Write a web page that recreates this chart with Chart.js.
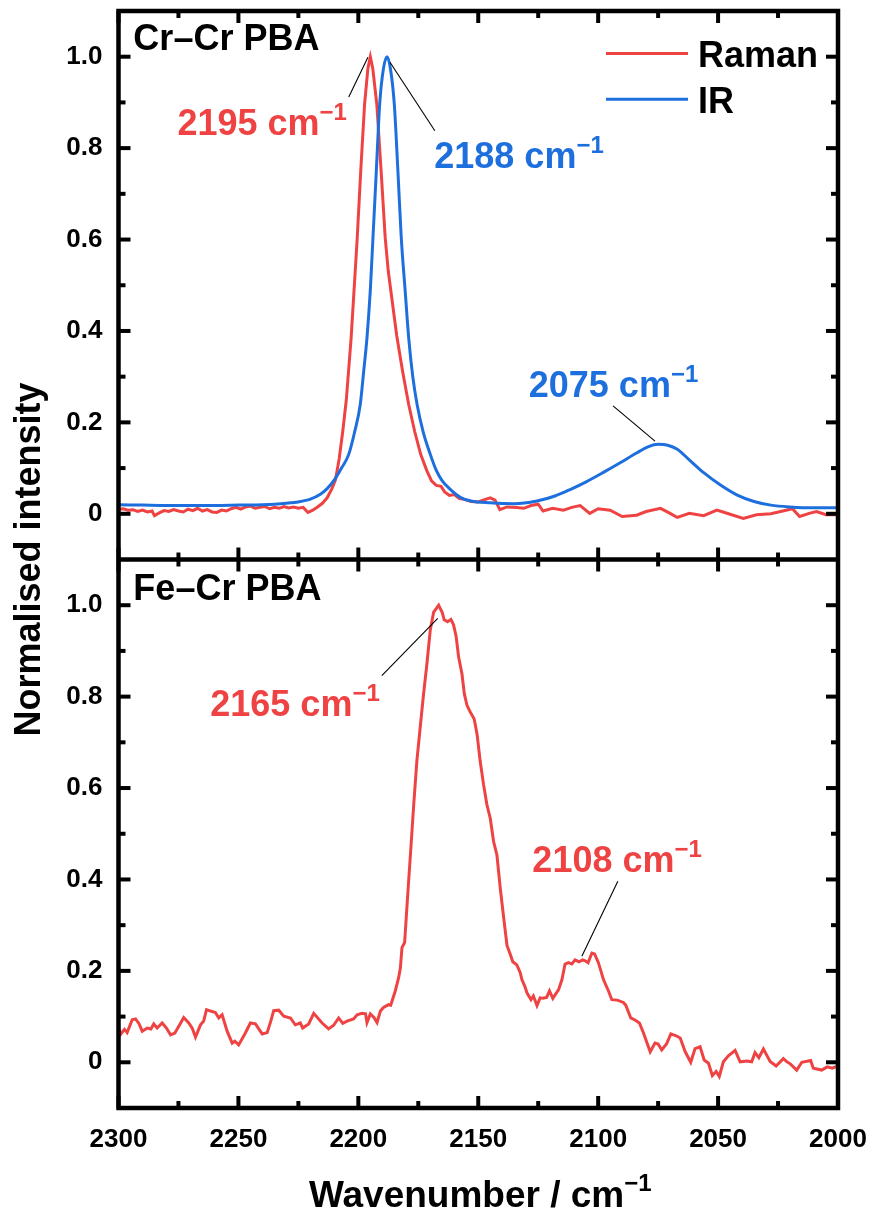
<!DOCTYPE html>
<html>
<head>
<meta charset="utf-8">
<script src="https://cdn.jsdelivr.net/npm/chart.js@4.4.1/dist/chart.umd.min.js"></script>
<style>
  html, body { margin: 0; padding: 0; background: #fff; }
  canvas { display: block; }
</style>
</head>
<body>
<canvas id="spectra" width="877" height="1216"></canvas>
<script>
const FONT = "'Liberation Sans', Arial, Helvetica, sans-serif";
const RED = '#ef4343';
const BLUE = '#1e6fde';

// Cr–Cr PBA, Raman spectrum (wavenumber / cm-1, normalised intensity)
const crRamanWn = [
  2300, 2298, 2296, 2294, 2292, 2290, 2288, 2286, 2285, 2283,
  2281, 2279, 2277, 2275, 2273, 2271, 2269, 2267, 2265, 2263,
  2261, 2259, 2257, 2255, 2253, 2251, 2249, 2247, 2245, 2243,
  2241, 2239, 2237, 2235, 2233, 2231, 2229, 2227, 2225, 2223,
  2221, 2219, 2217, 2215, 2213, 2211, 2209.5, 2208, 2206.5, 2205,
  2203, 2200.5, 2199, 2197.4, 2196, 2195, 2194, 2192.3, 2190.5, 2188.8,
  2187.5, 2186, 2184, 2181.5, 2179, 2176.5, 2174, 2171.5, 2169.5, 2167.5,
  2165.5, 2164, 2162, 2160, 2158, 2155.5, 2153, 2150, 2148, 2145,
  2143, 2141, 2138, 2134, 2131, 2128, 2125, 2123, 2119, 2114.5,
  2111, 2107.5, 2103.5, 2100, 2095, 2090, 2084, 2080, 2074, 2070,
  2067, 2062, 2056, 2050.5, 2045, 2039.5, 2034, 2028, 2023, 2019,
  2016, 2012, 2009, 2005, 2000
];
const crRaman = [
  0.010, 0.011, 0.008, 0.009, 0.005, 0.008, 0.004, 0.006, -0.004, 0.002,
  0.007, 0.005, 0.009, 0.006, 0.004, 0.010, 0.007, 0.012, 0.006, 0.009,
  0.004, 0.003, 0.008, 0.006, 0.011, 0.014, 0.010, 0.015, 0.017, 0.012,
  0.014, 0.016, 0.011, 0.014, 0.012, 0.016, 0.013, 0.015, 0.012, 0.014,
  0.003, 0.008, 0.015, 0.023, 0.035, 0.055, 0.075, 0.120, 0.180, 0.250,
  0.385, 0.600, 0.750, 0.896, 0.975, 1.000, 0.975, 0.896, 0.750, 0.604,
  0.530, 0.470, 0.390, 0.310, 0.239, 0.180, 0.130, 0.095, 0.072, 0.062,
  0.060, 0.048, 0.040, 0.042, 0.034, 0.031, 0.027, 0.026, 0.030, 0.035,
  0.030, 0.009, 0.015, 0.014, 0.012, 0.018, 0.021, 0.006, 0.012, 0.008,
  0.014, 0.018, 0.001, 0.011, 0.008, -0.006, -0.003, 0.005, 0.012, 0.001,
  -0.008, 0.001, -0.004, 0.008, -0.001, -0.010, -0.002, 0.000, 0.006, 0.011,
  -0.006, 0.001, 0.005, -0.002, -0.002
];

// Cr–Cr PBA, IR spectrum
const crIrWn = [
  2300, 2290, 2280, 2270, 2260, 2250, 2240, 2235, 2230, 2225,
  2220, 2216, 2213, 2210, 2207, 2204, 2201.5, 2199.2, 2197.8, 2196.4,
  2195, 2193.9, 2192.5, 2191.1, 2189.5, 2188, 2186.5, 2185, 2183.5, 2182.1,
  2180.5, 2179, 2177.3, 2175.5, 2173, 2170, 2167.5, 2165, 2162, 2157.5,
  2153, 2145, 2135, 2125.5, 2118, 2111.7, 2105, 2098, 2091, 2084,
  2079, 2075, 2071, 2067, 2062, 2056, 2049, 2042, 2035, 2028,
  2020, 2010, 2000
];
const crIr = [
  0.020, 0.019, 0.018, 0.018, 0.018, 0.019, 0.020, 0.021, 0.023, 0.026,
  0.032, 0.042, 0.055, 0.074, 0.100, 0.130, 0.180, 0.239, 0.310, 0.385,
  0.490, 0.604, 0.750, 0.896, 0.975, 1.000, 0.970, 0.896, 0.750, 0.604,
  0.490, 0.385, 0.300, 0.239, 0.180, 0.130, 0.095, 0.072, 0.055, 0.036,
  0.028, 0.024, 0.022, 0.028, 0.039, 0.053, 0.070, 0.090, 0.111, 0.133,
  0.147, 0.152, 0.150, 0.141, 0.118, 0.090, 0.063, 0.041, 0.027, 0.019,
  0.015, 0.013, 0.013
];

// Fe–Cr PBA, Raman spectrum
const feRamanWn = [
  2300, 2299, 2297.5, 2296.4, 2294.3, 2292.9, 2291.5, 2290.1, 2288, 2286.5,
  2285.3, 2283.9, 2281.8, 2280, 2278.3, 2276.5, 2274.5, 2272.8, 2270.7, 2269.2,
  2267.9, 2265.8, 2264.5, 2263.3, 2261.5, 2259.6, 2258.2, 2256.8, 2254.7, 2252.6,
  2251.5, 2249.9, 2247.1, 2245, 2242.9, 2240.1, 2238, 2236.5, 2235.3, 2233.2,
  2231.1, 2228.3, 2226.3, 2224.2, 2223.2, 2220.7, 2218.6, 2215.1, 2212.4, 2210.3,
  2208.2, 2206.5, 2204.7, 2202, 2200.5, 2198.5, 2197, 2196.4, 2195, 2193.5,
  2192.2, 2190.8, 2189.5, 2187.4, 2186.5, 2184.6, 2183.2, 2182.5, 2181.8, 2180.7,
  2179.7, 2178.3, 2176.9, 2175.6, 2174.2, 2172.8, 2171.4, 2170, 2168.6, 2167.6,
  2166.5, 2165.6, 2165, 2164.2, 2162.8, 2161.4, 2160.3, 2159.2, 2158.2, 2156.8,
  2155.8, 2154.7, 2153.3, 2151.7, 2150.5, 2149.2, 2147.8, 2146.4, 2145, 2143.6,
  2142.2, 2140.8, 2139.5, 2138, 2136.7, 2135.6, 2133.9, 2132.5, 2131.8, 2130.5,
  2129.7, 2128, 2127, 2125.5, 2124.2, 2123, 2121.5, 2120.3, 2118.9, 2116.5,
  2115.1, 2113.8, 2112.4, 2111, 2109.6, 2108, 2106.5, 2105.4, 2104.2, 2102.6,
  2101.5, 2099.9, 2097.8, 2095.7, 2094.3, 2092, 2089.5, 2088.5, 2086.4, 2084.5,
  2082.8, 2081.1, 2078.3, 2076.3, 2075, 2073.5, 2071.5, 2069.7, 2067.5, 2065.8,
  2063.7, 2061.4, 2059.6, 2057.5, 2055.8, 2054, 2052.4, 2050.8, 2049.5, 2047.8,
  2045.7, 2042.9, 2040.8, 2038, 2036, 2034.6, 2033, 2031.1, 2028.3, 2025.8,
  2022.8, 2021.5, 2019.8, 2017.2, 2015.1, 2011.4, 2010.3, 2006.8, 2004.5, 2002.4,
  2000
];
const feRaman = [
  0.075, 0.062, 0.072, 0.065, 0.093, 0.095, 0.085, 0.068, 0.075, 0.073,
  0.084, 0.075, 0.086, 0.075, 0.060, 0.064, 0.082, 0.098, 0.086, 0.074,
  0.055, 0.082, 0.090, 0.115, 0.112, 0.109, 0.097, 0.104, 0.068, 0.042,
  0.046, 0.038, 0.064, 0.086, 0.084, 0.062, 0.065, 0.090, 0.113, 0.114,
  0.101, 0.097, 0.082, 0.086, 0.075, 0.084, 0.107, 0.086, 0.073, 0.081,
  0.097, 0.085, 0.090, 0.095, 0.104, 0.107, 0.106, 0.087, 0.106, 0.098,
  0.087, 0.112, 0.120, 0.126, 0.125, 0.156, 0.185, 0.205, 0.251, 0.262,
  0.343, 0.453, 0.564, 0.659, 0.733, 0.806, 0.872, 0.946, 0.985, 0.992,
  1.000, 0.990, 0.984, 0.968, 0.964, 0.969, 0.957, 0.931, 0.887, 0.850,
  0.806, 0.781, 0.766, 0.751, 0.718, 0.659, 0.608, 0.564, 0.534, 0.483,
  0.453, 0.380, 0.321, 0.255, 0.237, 0.220, 0.213, 0.196, 0.181, 0.165,
  0.152, 0.137, 0.145, 0.124, 0.141, 0.140, 0.142, 0.156, 0.140, 0.159,
  0.181, 0.215, 0.218, 0.215, 0.224, 0.220, 0.224, 0.222, 0.218, 0.239,
  0.237, 0.218, 0.181, 0.156, 0.137, 0.136, 0.131, 0.125, 0.097, 0.092,
  0.086, 0.064, 0.023, 0.042, 0.040, 0.027, 0.040, 0.062, 0.058, 0.053,
  0.023, 0.000, 0.030, 0.034, 0.005, -0.002, -0.029, -0.020, -0.031, 0.001,
  0.014, 0.026, 0.001, 0.003, 0.001, 0.021, 0.010, 0.029, 0.002, -0.008,
  0.008, 0.002, -0.004, -0.017, 0.000, 0.004, -0.013, -0.017, -0.010, -0.013,
  -0.008
];

// Axes: ranges, ticks and their labels
const xRange = [2000, 2300];
const xTicks = [2300, 2250, 2200, 2150, 2100, 2050, 2000];
const xTickLabels = ['2300', '2250', '2200', '2150', '2100', '2050', '2000'];
const xMinorTicks = [2275, 2225, 2175, 2125, 2075, 2025];
const yRange = [-0.1, 1.1];
const yTicks = [0, 0.2, 0.4, 0.6, 0.8, 1.0];
const yTickLabels = ['0', '0.2', '0.4', '0.6', '0.8', '1.0'];
const yMinorTicks = [0.1, 0.3, 0.5, 0.7, 0.9];

const panelTitles = ['Cr–Cr PBA', 'Fe–Cr PBA'];
const xTitle = ['Wavenumber / cm', '−1'];
const yTitle = 'Normalised intensity';

// Peak annotations: text centre/baseline and leader line, in data units
const peakNotes = [
  { axis: 'yTop', text: '2195 cm', color: RED,  at: [2240.1, 0.829], from: [2204.0, 0.912], to: [2196.0, 0.999] },
  { axis: 'yTop', text: '2188 cm', color: BLUE, at: [2133.0, 0.757], from: [2186.8, 0.988], to: [2168.1, 0.838] },
  { axis: 'yTop', text: '2075 cm', color: BLUE, at: [2093.6, 0.255], from: [2093.8, 0.236], to: [2076.3, 0.159] },
  { axis: 'yBot', text: '2165 cm', color: RED,  at: [2226.4, 0.758], from: [2190.2, 0.846], to: [2166.9, 0.971] },
  { axis: 'yBot', text: '2108 cm', color: RED,  at: [2092.1, 0.416], from: [2091.8, 0.396], to: [2106.8, 0.232] }
];

const toPoints = (xs, ys) => xs.map((x, i) => ({ x, y: ys[i] }));

function drawSup(ctx, cx, baseline, main, sup, color, size) {
  const supSize = Math.round(size * 0.66);
  ctx.font = `bold ${size}px ${FONT}`;
  const wMain = ctx.measureText(main).width;
  ctx.font = `bold ${supSize}px ${FONT}`;
  const wSup = ctx.measureText(sup).width;
  const x0 = cx - (wMain + wSup) / 2;
  ctx.fillStyle = color;
  ctx.textAlign = 'left';
  ctx.textBaseline = 'alphabetic';
  ctx.font = `bold ${size}px ${FONT}`;
  ctx.fillText(main, x0, baseline);
  ctx.font = `bold ${supSize}px ${FONT}`;
  ctx.fillText(sup, x0 + wMain, baseline - size * 0.42);
}

function seg(ctx, x1, y1, x2, y2) {
  ctx.beginPath();
  ctx.moveTo(x1, y1);
  ctx.lineTo(x2, y2);
  ctx.stroke();
}

const frameAndNotes = {
  id: 'frameAndNotes',
  afterDraw(chart) {
    const ctx = chart.ctx;
    const sx = chart.scales.x, yT = chart.scales.yTop, yB = chart.scales.yBot;
    const L = sx.getPixelForValue(xRange[1]);
    const R = sx.getPixelForValue(xRange[0]);
    const T = yT.getPixelForValue(yRange[1]);
    const M = (yT.getPixelForValue(yRange[0]) + yB.getPixelForValue(yRange[1])) / 2;
    const B = yB.getPixelForValue(yRange[0]);
    const MAJ = 12, MIN = 7;

    ctx.save();
    ctx.strokeStyle = '#000';
    ctx.lineCap = 'butt';

    // tick marks, pointing into each panel
    ctx.lineWidth = 4;
    const xMarks = xTicks.map(v => [v, MAJ]).concat(xMinorTicks.map(v => [v, MIN]));
    for (const [v, len] of xMarks) {
      const px = sx.getPixelForValue(v);
      seg(ctx, px, T, px, T + len);
      seg(ctx, px, M - len, px, M + len);
      seg(ctx, px, B, px, B - len);
    }
    const yMarks = yTicks.map(v => [v, MAJ]).concat(yMinorTicks.map(v => [v, MIN]));
    for (const sc of [yT, yB]) {
      for (const [v, len] of yMarks) {
        const py = sc.getPixelForValue(v);
        seg(ctx, L, py, L + len, py);
        seg(ctx, R, py, R - len, py);
      }
    }

    // frame of both panels
    ctx.lineWidth = 4.5;
    ctx.strokeRect(L, T, R - L, B - T);
    seg(ctx, L, M, R, M);

    // panel titles
    ctx.fillStyle = '#000';
    ctx.font = `bold 36px ${FONT}`;
    ctx.textAlign = 'left';
    ctx.textBaseline = 'alphabetic';
    ctx.fillText(panelTitles[0], sx.getPixelForValue(2293.8), yT.getPixelForValue(1.014));
    ctx.fillText(panelTitles[1], sx.getPixelForValue(2293.8), yB.getPixelForValue(1.012));

    // legend of the upper panel
    const legendItems = [chart.data.datasets[1], chart.data.datasets[0]];
    legendItems.forEach((ds, i) => {
      const ly = T + 42.5 + i * 45.8;
      ctx.strokeStyle = ds.borderColor;
      ctx.lineWidth = 3;
      seg(ctx, R - 232, ly, R - 150, ly);
      ctx.fillStyle = '#000';
      ctx.font = `bold 36px ${FONT}`;
      ctx.fillText(ds.label, R - 140, ly + 13.5);
    });

    // peak positions with leader lines
    ctx.strokeStyle = '#000';
    ctx.lineWidth = 1.1;
    for (const n of peakNotes) {
      const sc = chart.scales[n.axis];
      seg(ctx, sx.getPixelForValue(n.from[0]), sc.getPixelForValue(n.from[1]),
               sx.getPixelForValue(n.to[0]), sc.getPixelForValue(n.to[1]));
      drawSup(ctx, sx.getPixelForValue(n.at[0]), sc.getPixelForValue(n.at[1]), n.text, '−1', n.color, 36);
    }

    // axis titles
    drawSup(ctx, (L + R) / 2 + 2, B + 99, xTitle[0], xTitle[1], '#000', 37);
    ctx.save();
    ctx.translate(40, (T + B) / 2);
    ctx.rotate(-Math.PI / 2);
    ctx.fillStyle = '#000';
    ctx.font = `bold 36px ${FONT}`;
    ctx.textAlign = 'center';
    ctx.textBaseline = 'alphabetic';
    ctx.fillText(yTitle, 0, 0);
    ctx.restore();

    ctx.restore();
  }
};

const tickFont = { family: FONT, size: 26, weight: 'bold' };

// the plot area is fixed by the layout padding and the axis sizes alone
function fixBox(s, size) {
  if (s.isHorizontal()) { s.height = size; } else { s.width = size; }
  s.paddingTop = 0;
  s.paddingBottom = 0;
  s.paddingLeft = 0;
  s.paddingRight = 0;
}

function yScale() {
  return {
    type: 'linear',
    position: 'left',
    stack: 'panels',
    stackWeight: 1,
    offset: false,
    min: yRange[0],
    max: yRange[1],
    afterBuildTicks: s => { s.ticks = yTicks.map(v => ({ value: v })); },
    afterFit: s => fixBox(s, 118.5),
    ticks: {
      callback: (v, i) => yTickLabels[i],
      font: tickFont,
      color: '#000',
      padding: 16,
      autoSkip: false
    },
    grid: { display: false, drawTicks: false },
    border: { display: false }
  };
}

new Chart(document.getElementById('spectra'), {
  type: 'line',
  data: {
    datasets: [
      { label: 'IR', data: toPoints(crIrWn, crIr), yAxisID: 'yTop', borderColor: BLUE,
        borderWidth: 3, pointRadius: 0, cubicInterpolationMode: 'monotone' },
      { label: 'Raman', data: toPoints(crRamanWn, crRaman), yAxisID: 'yTop', borderColor: RED,
        borderWidth: 3, pointRadius: 0, tension: 0 },
      { label: 'Raman', data: toPoints(feRamanWn, feRaman), yAxisID: 'yBot', borderColor: RED,
        borderWidth: 3, pointRadius: 0, tension: 0 }
    ]
  },
  options: {
    responsive: false,
    animation: false,
    events: [],
    layout: { autoPadding: false, padding: { top: 11, right: 39, left: 0, bottom: 0 } },
    plugins: { legend: { display: false }, tooltip: { enabled: false } },
    scales: {
      x: {
        type: 'linear',
        reverse: true,
        min: xRange[0],
        max: xRange[1],
        afterBuildTicks: s => { s.ticks = xTicks.map(v => ({ value: v })); },
        afterFit: s => fixBox(s, 108),
        ticks: {
          callback: (v, i) => xTickLabels[i],
          font: tickFont,
          color: '#000',
          padding: 16,
          autoSkip: false,
          maxRotation: 0
        },
        grid: { display: false, drawTicks: false },
        border: { display: false }
      },
      yBot: yScale(),
      yTop: yScale()
    }
  },
  plugins: [frameAndNotes]
});
</script>
</body>
</html>
